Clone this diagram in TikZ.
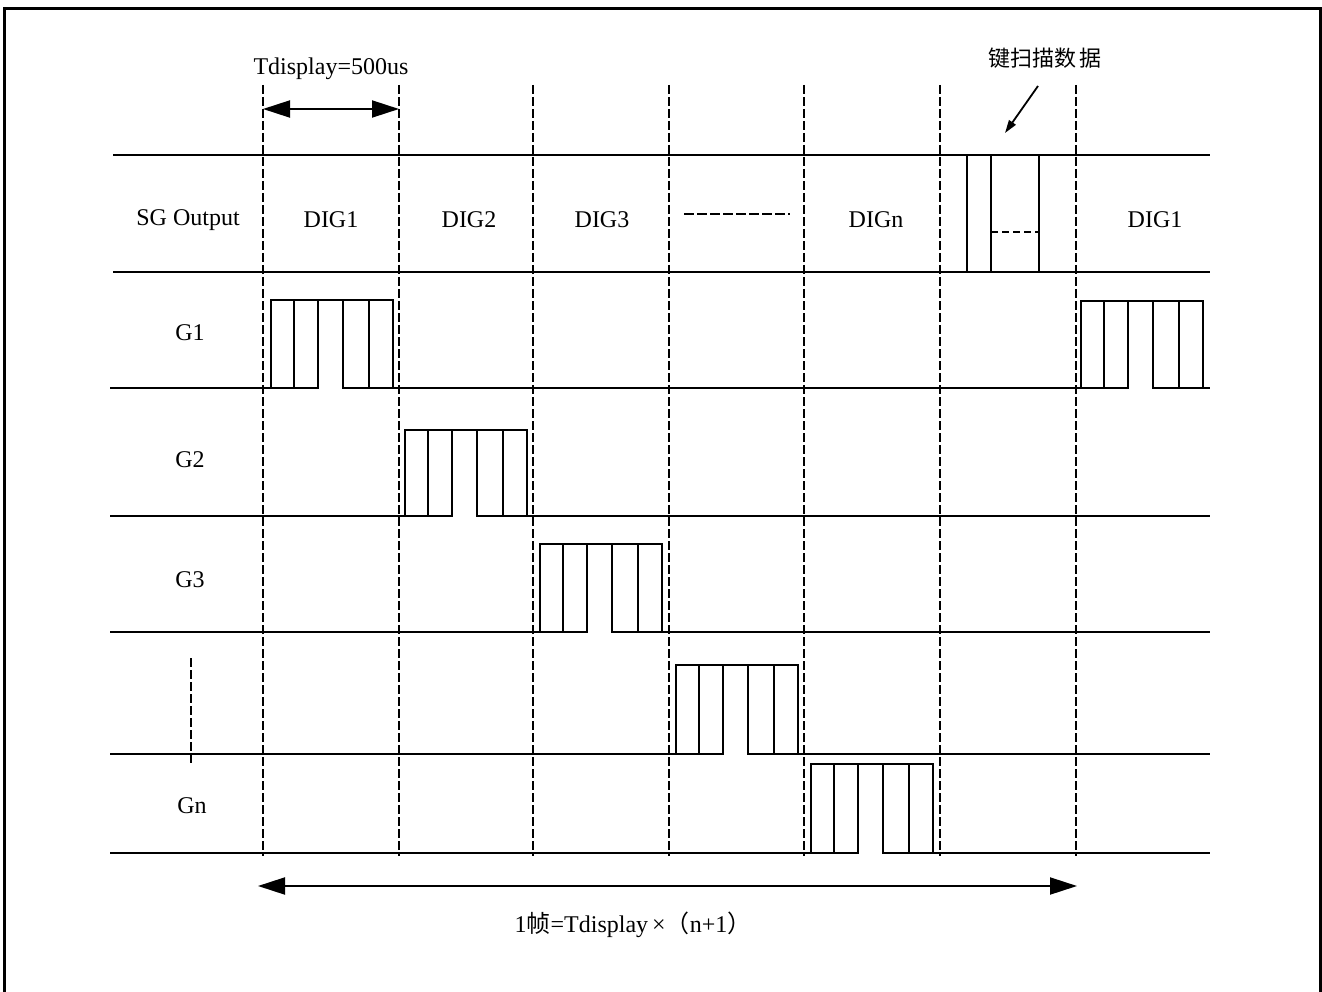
\documentclass[tikz,border=0pt]{standalone}
\usepackage{fontspec}
\setmainfont{Liberation Serif}
\newfontfamily\cjk{Noto Sans CJK SC}
\usetikzlibrary{arrows.meta}
\tikzset{
  rowline/.style={line width=1.9pt},
  vdash/.style={line width=1.7pt, dash pattern=on 9pt off 3pt},
  pulseline/.style={line width=1.9pt},
  lab/.style={font=\fontsize{24}{28}\selectfont, inner sep=0pt},
  bigarrow/.style={line width=2pt, {Triangle[length=27pt,width=17pt]}-{Triangle[length=27pt,width=17pt]}},
  smallarrow/.style={line width=1.8pt, -{Triangle[length=13pt,width=8pt]}},
}
\newcommand{\mypulse}[3]{%
  \fill[white] ({#1+48},{#3-2.5}) rectangle ({#1+71},{#3+2.5});
  \draw[pulseline] (#1,#3) -- (#1,#2) -- ({#1+122},#2) -- ({#1+122},#3);
  \foreach \dx in {23,47,72,98} {\draw[pulseline] ({#1+\dx},#2) -- ({#1+\dx},#3);}
  \draw[pulseline] (#1,#3) -- ({#1+47},#3);
  \draw[pulseline] ({#1+72},#3) -- ({#1+122},#3);
}
\begin{document}
\begin{tikzpicture}[x=1pt,y=-1pt]
\useasboundingbox (0,0) rectangle (1322,992);
% frame
\draw[line width=3pt] (4.5,995) -- (4.5,9) -- (1320.5,9) -- (1320.5,995);
% row lines
\draw[rowline] (113,155) -- (1210,155);
\draw[rowline] (113,272) -- (1210,272);
\foreach \y in {388,516,632,754,853} {\draw[rowline] (110,\y) -- (1210,\y);}
% vertical dashed lines
\foreach \x in {263,399,533,669,804,940,1076} {\draw[vdash] (\x,85) -- (\x,856);}
% left column dashed
\draw[vdash] (191,658) -- (191,765);
% dashes in column 4
\draw[line width=1.9pt, dash pattern=on 10pt off 3pt] (684,214) -- (790,214);
% key scan box
\foreach \x in {967,991,1039} {\draw[pulseline] (\x,155) -- (\x,272);}
\draw[line width=1.7pt, dash pattern=on 7pt off 4pt] (991,232) -- (1039,232);
% pulses
\mypulse{271}{300}{388}
\mypulse{405}{430}{516}
\mypulse{540}{544}{632}
\mypulse{676}{665}{754}
\mypulse{811}{764}{853}
\mypulse{1081}{301}{388}
% labels
\node[lab] (sg) at (188,220) {SG Output};
\node[lab] (d1) at (331,220) {DIG1};
\node[lab] (d2) at (469,220) {DIG2};
\node[lab] (d3) at (602,220) {DIG3};
\node[lab] (dn) at (876,220) {DIGn};
\node[lab] (d1b) at (1155,220) {DIG1};
\node[lab] (g1) at (190,333) {G1};
\node[lab] (g2) at (190,460) {G2};
\node[lab] (g3) at (190,580) {G3};
\node[lab] (gn) at (192,806) {Gn};
\node[lab] (td) at (331,69) {Tdisplay=500us};
\node[inner sep=0pt, font=\cjk\fontsize{22}{26}\selectfont] (key) at (1045,58) {键扫描数\,据};
\node[lab] (frame) at (633,925) {1{\cjk 帧}=Tdisplay\,×{\cjk （}n+1{\cjk ）}};
% arrows
\coordinate (ta) at (263,109);
\coordinate (tb) at (399,109);
\draw[bigarrow] (ta) -- (tb);
\coordinate (fa) at (258,886);
\coordinate (fb) at (1077,886);
\draw[bigarrow] (fa) -- (fb);
\coordinate (ka) at (1038,86);
\coordinate (kb) at (1005,133);
\draw[smallarrow] (ka) -- (kb);
\end{tikzpicture}
\end{document}
